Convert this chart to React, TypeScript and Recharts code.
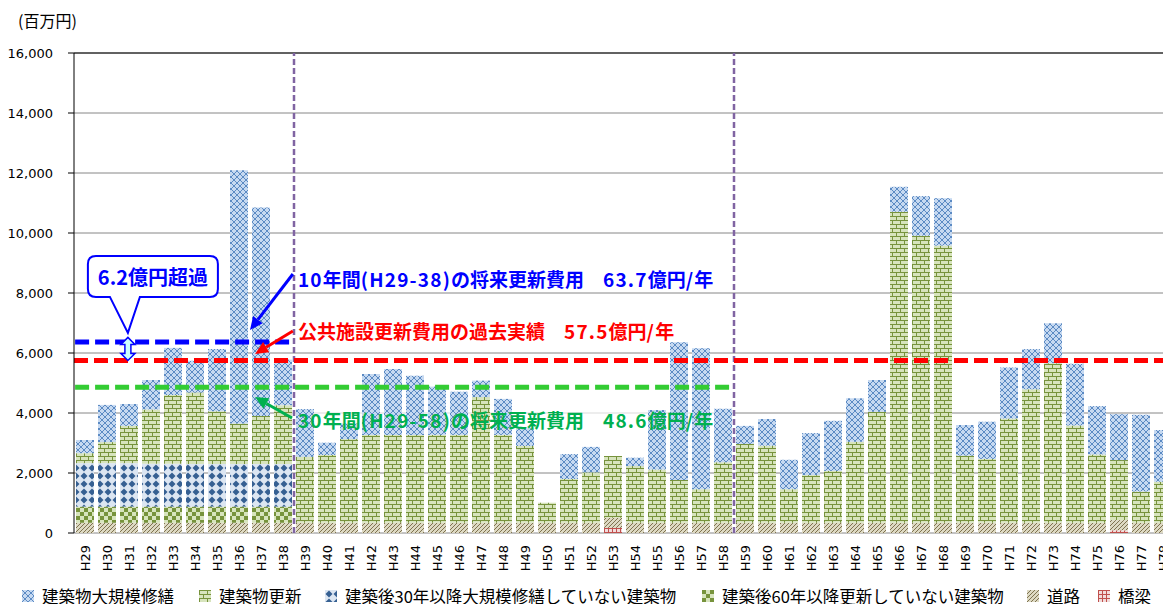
import React from 'react';
import {
  BarChart, Bar, XAxis, YAxis, CartesianGrid, ReferenceLine, ReferenceDot, ReferenceArea, Legend,
} from 'recharts';

// ---------- data ----------
const years = [
  'H29', 'H30', 'H31', 'H32', 'H33', 'H34', 'H35', 'H36', 'H37', 'H38',
  'H39', 'H40', 'H41', 'H42', 'H43', 'H44', 'H45', 'H46', 'H47', 'H48',
  'H49', 'H50', 'H51', 'H52', 'H53', 'H54', 'H55', 'H56', 'H57', 'H58',
  'H59', 'H60', 'H61', 'H62', 'H63', 'H64', 'H65', 'H66', 'H67', 'H68',
  'H69', 'H70', 'H71', 'H72', 'H73', 'H74', 'H75', 'H76', 'H77', 'H78',
];
// position of each category centre on the helper numeric axis (0..50)
const positions = [
  0.5, 1.5, 2.5, 3.5, 4.5, 5.5, 6.5, 7.5, 8.5, 9.5,
  10.5, 11.5, 12.5, 13.5, 14.5, 15.5, 16.5, 17.5, 18.5, 19.5,
  20.5, 21.5, 22.5, 23.5, 24.5, 25.5, 26.5, 27.5, 28.5, 29.5,
  30.5, 31.5, 32.5, 33.5, 34.5, 35.5, 36.5, 37.5, 38.5, 39.5,
  40.5, 41.5, 42.5, 43.5, 44.5, 45.5, 46.5, 47.5, 48.5, 49.5,
];
// 橋梁
const bridge = [
  0, 0, 0, 0, 0, 0, 0, 0, 0, 0,
  0, 0, 0, 0, 0, 0, 0, 0, 0, 0,
  0, 0, 0, 0, 170, 0, 0, 0, 0, 0,
  0, 0, 0, 0, 0, 0, 0, 0, 0, 0,
  0, 0, 0, 0, 0, 0, 0, 90, 0, 0,
];
// 道路
const road = [
  340, 340, 340, 340, 340, 340, 340, 340, 340, 340,
  340, 340, 340, 340, 340, 340, 340, 340, 340, 340,
  340, 340, 340, 340, 340, 340, 340, 340, 340, 340,
  340, 340, 340, 340, 340, 340, 340, 340, 340, 340,
  340, 340, 340, 340, 340, 340, 340, 340, 340, 340,
];
// 建築後60年以降更新していない建築物
const notRenewed60 = [
  540, 540, 540, 540, 540, 540, 540, 540, 540, 540,
  0, 0, 0, 0, 0, 0, 0, 0, 0, 0,
  0, 0, 0, 0, 0, 0, 0, 0, 0, 0,
  0, 0, 0, 0, 0, 0, 0, 0, 0, 0,
  0, 0, 0, 0, 0, 0, 0, 0, 0, 0,
];
// 建築後30年以降大規模修繕していない建築物
const notRepaired30 = [
  1450, 1450, 1450, 1430, 1430, 1420, 1420, 1420, 1420, 1420,
  0, 0, 0, 0, 0, 0, 0, 0, 0, 0,
  0, 0, 0, 0, 0, 0, 0, 0, 0, 0,
  0, 0, 0, 0, 0, 0, 0, 0, 0, 0,
  0, 0, 0, 0, 0, 0, 0, 0, 0, 0,
];
// 建築物更新
const renewal = [
  330, 700, 1240, 1810, 2290, 2380, 1760, 1350, 1600, 1960,
  2200, 2260, 2790, 2930, 2930, 2930, 2930, 2930, 4190, 2930,
  2560, 670, 1460, 1680, 2060, 1890, 1780, 1430, 1120, 2020,
  2630, 2570, 1120, 1590, 1730, 2700, 3700, 10370, 9570, 9240,
  2240, 2130, 3480, 4450, 5320, 3240, 2280, 2000, 1040, 1370,
];
// 建築物大規模修繕
const majorRepair = [
  440, 1240, 730, 980, 1570, 1060, 2070, 8440, 6950, 1520,
  1590, 410, 520, 2030, 2200, 1970, 1610, 1440, 550, 1200,
  590, 0, 830, 850, 0, 280, 1980, 4590, 4700, 1780,
  600, 890, 980, 1400, 1670, 1450, 1060, 830, 1320, 1580,
  1020, 1240, 1700, 1340, 1330, 2060, 1610, 1530, 2560, 1720,
];
const yTicks = [0, 2000, 4000, 6000, 8000, 10000, 12000, 14000, 16000];
const xBoundaryTicks = [
  0, 1, 2, 3, 4, 5, 6, 7, 8, 9, 10, 11, 12, 13, 14, 15, 16, 17, 18, 19, 20, 21, 22, 23, 24, 25,
  26, 27, 28, 29, 30, 31, 32, 33, 34, 35, 36, 37, 38, 39, 40, 41, 42, 43, 44, 45, 46, 47, 48, 49, 50,
];

// averages (百万円/年)
const avg10 = 6370;
const avgPast = 5750;
const avg30 = 4860;

const data = years.map((year, i) => ({
  year,
  pos: positions[i],
  bridge: bridge[i],
  road: road[i],
  c60: notRenewed60[i],
  c30: notRepaired30[i],
  renew: renewal[i],
  major: majorRepair[i],
}));

const JP = '"Noto Sans CJK JP", "Noto Sans", sans-serif';
const fmt = (v: number) => String(v).replace(/\B(?=(\d{3})+(?!\d))/g, ',');

const legendItems = [
  { name: '建築物大規模修繕', fill: 'url(#pMajor)', left: 22 },
  { name: '建築物更新', fill: 'url(#pRenew)', left: 199 },
  { name: '建築後30年以降大規模修繕していない建築物', fill: 'url(#pC30)', left: 325 },
  { name: '建築後60年以降更新していない建築物', fill: 'url(#pC60)', left: 702 },
  { name: '道路', fill: 'url(#pRoad)', left: 1027 },
  { name: '橋梁', fill: 'url(#pBridge)', left: 1098 },
];

const LegendContent = () => (
  <div style={{ position: 'relative', height: 20, width: 1171, fontFamily: JP, fontSize: 16.5, color: '#000' }}>
    {legendItems.map((it) => (
      <div key={it.name} style={{ position: 'absolute', left: it.left, top: 0, height: 20, display: 'flex', alignItems: 'center', whiteSpace: 'nowrap' }}>
        <svg width={12} height={12} style={{ display: 'block' }}>
          <rect x={0} y={0} width={12} height={12} fill={it.fill} />
        </svg>
        <span style={{ marginLeft: 8, lineHeight: '20px' }}>{it.name}</span>
      </div>
    ))}
  </div>
);

const YearTick = (p: any) => (
  <text
    transform={`translate(${p.x + 5},${p.y + 12}) rotate(-90)`}
    textAnchor="end"
    fontSize={13}
    fontFamily="DejaVu Sans"
    fill="#000"
  >
    {p.payload.value}
  </text>
);

const Arrow = (color: string) => (p: any) => {
  const { x1, y1, x2, y2 } = p;
  const ang = Math.atan2(y2 - y1, x2 - x1);
  const L = 13;
  const W = 6;
  const bx = x2 - L * Math.cos(ang);
  const by = y2 - L * Math.sin(ang);
  const nx = -Math.sin(ang);
  const ny = Math.cos(ang);
  return (
    <g>
      <line x1={x1} y1={y1} x2={bx} y2={by} stroke={color} strokeWidth={3} />
      <polygon points={`${x2},${y2} ${bx + nx * W},${by + ny * W} ${bx - nx * W},${by - ny * W}`} fill={color} />
    </g>
  );
};

const DoubleArrow = (p: any) => {
  const x = p.x1;
  const t = Math.min(p.y1, p.y2);
  const b = Math.max(p.y1, p.y2);
  const h = 7, hw = 7, sw = 3;
  const pts = [
    [x, t], [x + hw, t + h], [x + sw, t + h], [x + sw, b - h], [x + hw, b - h], [x, b],
    [x - hw, b - h], [x - sw, b - h], [x - sw, t + h], [x - hw, t + h],
  ].map((q) => q.join(',')).join(' ');
  return <polygon points={pts} fill="#ccffff" stroke="#0000ff" strokeWidth={1.5} />;
};

const Callout = (p: any) => {
  const { cx, cy } = p;
  const l = cx - 40, r = cx + 90, t = cy - 86, b = cy - 45, rr = 8;
  const d = `M${l + rr},${t} H${r - rr} Q${r},${t} ${r},${t + rr} V${b - rr} Q${r},${b} ${r - rr},${b} H${cx + 12} L${cx},${cy - 9} L${cx - 18},${b} H${l + rr} Q${l},${b} ${l},${b - rr} V${t + rr} Q${l},${t} ${l + rr},${t} Z`;
  return (
    <g>
      <path d={d} fill="#fff" stroke="#0000ff" strokeWidth={2} />
      <text x={cx + 25} y={(t + b) / 2} textAnchor="middle" dominantBaseline="central" fontFamily={JP} fontWeight="bold" fontSize={20} fill="#0000ff">
        6.2億円超過
      </text>
    </g>
  );
};

// ASCII runs are drawn slightly wider, like the original's proportional font
const runs = (s: string) => s.match(/[\x20-\x7e]+|[^\x20-\x7e]+/g) || [];
const Label = (text: string, color: string) => (p: any) => (
  <text x={p.cx} y={p.cy} dominantBaseline="central" fontFamily={JP} fontWeight="bold" fontSize={19} fill={color}>
    {runs(text).map((r, i) => (
      <tspan key={i} letterSpacing={/^[\x20-\x7e]+$/.test(r) ? 1.2 : 0}>{r}</tspan>
    ))}
  </text>
);

const UnitLabel = (p: any) => (
  <text x={p.cx - 56} y={p.cy - 33} dominantBaseline="central" fontFamily={JP} fontSize={16} fill="#000">
    (百万円)
  </text>
);

export default function App() {
  return (
    <div style={{ margin: -8, width: 1171, height: 612, overflow: 'hidden', background: '#fff' }}>
      <BarChart
        width={1180}
        height={612}
        data={data}
        margin={{ top: 53, right: 6, bottom: 0, left: 0 }}
        barSize={18}
      >
        <defs>
          <pattern id="pMajor" patternUnits="userSpaceOnUse" width={6} height={6}>
            <rect width={6} height={6} fill="#c6d9f1" />
            <path d="M0,0L6,6M6,0L0,6" stroke="#4f81bd" strokeWidth={0.9} />
          </pattern>
          <pattern id="pRenew" patternUnits="userSpaceOnUse" width={8} height={8}>
            <rect width={8} height={8} fill="#d7e4bd" />
            <path d="M0,0.5H8M0,4.5H8M0.5,0V4M4.5,4V8" stroke="#77933c" strokeWidth={1} />
          </pattern>
          <pattern id="pC30" patternUnits="userSpaceOnUse" width={8} height={8}>
            <rect width={8} height={8} fill="#dce6f2" />
            <polygon points="4,0.5 7.5,4 4,7.5 0.5,4" fill="#366092" />
          </pattern>
          <pattern id="pC60" patternUnits="userSpaceOnUse" width={8} height={8}>
            <rect width={8} height={8} fill="#d7e4bd" />
            <rect x={0} y={0} width={4} height={4} fill="#77933c" />
            <rect x={4} y={4} width={4} height={4} fill="#77933c" />
          </pattern>
          <pattern id="pRoad" patternUnits="userSpaceOnUse" width={4} height={4}>
            <rect width={4} height={4} fill="#ddd9c3" />
            <path d="M0,4L4,0M-1,1L1,-1M3,5L5,3" stroke="#7f7350" strokeWidth={1} />
          </pattern>
          <pattern id="pBridge" patternUnits="userSpaceOnUse" width={4} height={4}>
            <rect width={4} height={4} fill="#f2dcdb" />
            <path d="M0,0.5H4M0.5,0V4" stroke="#c0504d" strokeWidth={1} />
          </pattern>
        </defs>
        <CartesianGrid vertical={false} stroke="#868686" xAxisId="c" />
        <XAxis
          xAxisId="n"
          dataKey="pos"
          type="number"
          domain={[0, 50]}
          allowDataOverflow
          ticks={xBoundaryTicks}
          interval={0}
          tick={false}
          tickSize={6}
          tickLine={{ stroke: '#000' }}
          axisLine={{ stroke: '#000' }}
          height={0}
        />
        <XAxis
          xAxisId="c"
          dataKey="year"
          interval={0}
          tickLine={false}
          axisLine={false}
          tickSize={0}
          tickMargin={0}
          tick={<YearTick />}
          height={59}
        />
        <YAxis
          domain={[0, 16000]}
          ticks={yTicks}
          interval={0}
          tickFormatter={fmt}
          width={74}
          tickSize={6}
          tickMargin={15}
          tickLine={{ stroke: '#000' }}
          axisLine={{ stroke: '#000' }}
          tick={{ fill: '#000', fontSize: 13, fontFamily: 'DejaVu Sans' }}
        />
        <Legend verticalAlign="bottom" align="left" content={<LegendContent />} wrapperStyle={{ left: 0, top: 586, width: 1171, height: 20 }} />
        <Bar xAxisId="c" dataKey="bridge" stackId="a" fill="url(#pBridge)" isAnimationActive={false} />
        <Bar xAxisId="c" dataKey="road" stackId="a" fill="url(#pRoad)" isAnimationActive={false} />
        <Bar xAxisId="c" dataKey="c60" stackId="a" fill="url(#pC60)" isAnimationActive={false} />
        <Bar xAxisId="c" dataKey="c30" stackId="a" fill="url(#pC30)" isAnimationActive={false} />
        <Bar xAxisId="c" dataKey="renew" stackId="a" fill="url(#pRenew)" isAnimationActive={false} />
        <Bar xAxisId="c" dataKey="major" stackId="a" fill="url(#pMajor)" isAnimationActive={false} />

        <ReferenceLine xAxisId="n" y={16000} stroke="#000" strokeWidth={1} ifOverflow="visible" />
        <ReferenceArea xAxisId="n" x1={9.9} x2={30.05} y1={3270} y2={4200} fill="#fff" fillOpacity={0.7} stroke="none" ifOverflow="visible" />
        <ReferenceLine xAxisId="n" x={10} stroke="#8064a2" strokeWidth={2.5} strokeDasharray="6 3" ifOverflow="visible" />
        <ReferenceLine xAxisId="n" x={30} stroke="#8064a2" strokeWidth={2.5} strokeDasharray="6 3" ifOverflow="visible" />

        <ReferenceLine xAxisId="n" segment={[{ x: 0, y: avgPast }, { x: 50, y: avgPast }]} stroke="#ff0000" strokeWidth={5} strokeDasharray="14 6" ifOverflow="visible" />
        <ReferenceLine xAxisId="n" segment={[{ x: 0.05, y: avg30 }, { x: 29.8, y: avg30 }]} stroke="#33cc33" strokeWidth={5} strokeDasharray="14 6" ifOverflow="visible" />
        <ReferenceLine xAxisId="n" segment={[{ x: 0.05, y: avg10 }, { x: 9.8, y: avg10 }]} stroke="#0000ff" strokeWidth={5} strokeDasharray="14 6" ifOverflow="visible" />

        <ReferenceLine xAxisId="n" segment={[{ x: 2.45, y: 6520 }, { x: 2.45, y: avgPast }]} shape={DoubleArrow} ifOverflow="visible" />
        <ReferenceDot xAxisId="n" x={2.45} y={avg10} r={1} shape={Callout} ifOverflow="visible" />

        <ReferenceLine xAxisId="n" segment={[{ x: 9.95, y: 8633 }, { x: 8.0, y: 6767 }]} shape={Arrow('#0000ff')} ifOverflow="visible" />
        <ReferenceLine xAxisId="n" segment={[{ x: 9.95, y: 6733 }, { x: 8.23, y: 5967 }]} shape={Arrow('#ff0000')} ifOverflow="visible" />
        <ReferenceLine xAxisId="n" segment={[{ x: 9.91, y: 3833 }, { x: 8.23, y: 4533 }]} shape={Arrow('#00b050')} ifOverflow="visible" />

        <ReferenceDot xAxisId="n" x={10.18} y={8500} r={1} shape={Label('10年間(H29-38)の将来更新費用　63.7億円/年', '#0000ff')} ifOverflow="visible" />
        <ReferenceDot xAxisId="n" x={10.18} y={6767} r={1} shape={Label('公共施設更新費用の過去実績　57.5億円/年', '#ff0000')} ifOverflow="visible" />
        <ReferenceDot xAxisId="n" x={10.18} y={3800} r={1} shape={Label('30年間(H29-58)の将来更新費用　48.6億円/年', '#00b050')} ifOverflow="visible" />
        <ReferenceDot xAxisId="n" x={0} y={16000} r={1} shape={UnitLabel} ifOverflow="visible" />
      </BarChart>
    </div>
  );
}
